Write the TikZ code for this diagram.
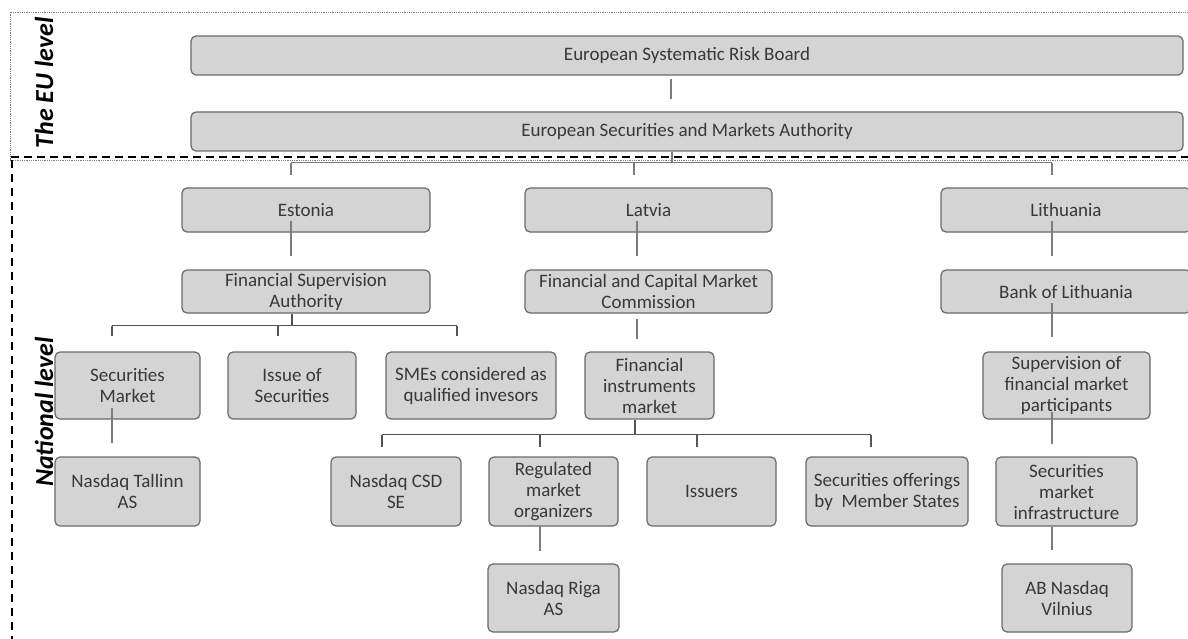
\documentclass[tikz,border=0pt]{standalone}
\usepackage{fontspec}
\setmainfont{Carlito}
\usetikzlibrary{calc}
\definecolor{boxfill}{HTML}{D4D4D4}
\definecolor{boxline}{HTML}{6A6A6A}
\definecolor{txt}{HTML}{383838}
\definecolor{conn}{HTML}{7C7C7C}
\definecolor{busc}{HTML}{555555}
\newcommand\mybox[6]{\node[box, minimum width=#4pt, minimum height=#5pt] (#1) at (#2,#3) {#6};}
\begin{document}
\begin{tikzpicture}[x=1pt,y=-1pt,
  box/.style={draw=boxline, fill=boxfill, rounded corners=5pt, line width=1.2pt, text=txt, align=center, font=\fontsize{19}{21}\selectfont, inner sep=1pt},
  lk/.style={draw=conn, line width=1.4pt},
  bus/.style={draw=busc, line width=1.3pt},
  lbl/.style={font=\fontsize{26}{28}\selectfont\bfseries\itshape, text=black, inner sep=0pt}]
\useasboundingbox[fill=white] (0,0) rectangle (1188,639);
% level frames
\draw[densely dotted, draw=gray, line width=0.8pt] (1200,12) -- (10,12) -- (10,160) -- (1200,160);
\draw[dash pattern=on 8pt off 5pt, line width=1.5pt] (11,157) -- (1200,157);
\draw[dash pattern=on 8pt off 6pt, line width=1.5pt] (12,160) -- (12,645);
\node[lbl, rotate=90] (eu) at (44,83) {The EU level};
\node[lbl, rotate=90] (nat) at (44,412) {National level};
% boxes
\mybox{ersb}{687}{55.5}{992}{39}{European Systematic Risk Board}
\mybox{esma}{687}{131.5}{992}{39}{European Securities and Markets Authority}
\mybox{est}{306}{210}{248}{44}{Estonia}
\mybox{lat}{648.5}{210}{247}{44}{Latvia}
\mybox{lit}{1066}{210}{250}{44}{Lithuania}
\mybox{fsa}{306}{291.5}{248}{43}{Financial Supervision\\Authority}
\mybox{fcmc}{648.5}{291.5}{247}{43}{Financial and Capital Market\\Commission}
\mybox{bol}{1066}{291.5}{250}{43}{Bank of Lithuania}
\mybox{secm}{127.5}{385.5}{145}{67}{Securities\\Market}
\mybox{iss}{292}{385.5}{128}{67}{Issue of\\Securities}
\mybox{sme}{471}{385.5}{170}{67}{SMEs considered as\\qualified invesors}
\mybox{fim}{649.5}{385.5}{129}{67}{Financial\\instruments\\market}
\mybox{sup}{1066.5}{385.5}{167}{67}{Supervision of\\financial market\\participants}
\mybox{tal}{127.5}{491.5}{145}{69}{Nasdaq Tallinn\\AS}
\mybox{csd}{396}{491.5}{130}{69}{Nasdaq CSD\\SE}
\mybox{reg}{553.5}{491.5}{129}{69}{Regulated\\market\\organizers}
\mybox{issuers}{711.5}{491.5}{129}{69}{Issuers}
\mybox{offer}{887}{491.5}{162}{69}{Securities offerings\\by~ Member States}
\mybox{smi}{1066.5}{491.5}{141}{69}{Securities\\market\\infrastructure}
\mybox{riga}{553.5}{598}{131}{68}{Nasdaq Riga\\AS}
\mybox{vil}{1067}{598}{130}{68}{AB Nasdaq\\Vilnius}
% x positions of connectors
\path (671,0) coordinate (x1) (672,0) coordinate (x2) (291,0) coordinate (xest)
      (634,0) coordinate (xlat) (1052,0) coordinate (xlit) (292,0) coordinate (xfsa)
      (112,0) coordinate (xsm) (278,0) coordinate (xis) (457,0) coordinate (xsme)
      (637,0) coordinate (xfc) (635,0) coordinate (xfim) (382,0) coordinate (xcsd)
      (540,0) coordinate (xreg) (697,0) coordinate (xiss) (871,0) coordinate (xoff);
% EU level
\draw[lk] ($(x1 |- ersb.south)+(0,3)$) -- ($(x1 |- esma.north)+(0,-12)$);
\draw[lk] (x2 |- esma.south) -- ++(0,11) coordinate (b0);
\draw[lk] (xest |- b0) -- (xlit |- b0);
\draw[lk] (xest |- b0) -- ($(xest |- est.north)+(0,-12)$);
\draw[lk] (xlat |- b0) -- ($(xlat |- lat.north)+(0,-12)$);
\draw[lk] (xlit |- b0) -- ($(xlit |- lit.north)+(0,-12)$);
% Estonia
\draw[lk] ($(xest |- est.south)+(0,-12)$) -- ($(xest |- fsa.north)+(0,-13)$);
\draw[bus] (xfsa |- fsa.south) -- ++(0,12) coordinate (b1);
\draw[bus] (xsm |- b1) -- (xsme |- b1);
\draw[bus] (xsm |- b1) -- ($(xsm |- secm.north)+(0,-15)$);
\draw[bus] (xis |- b1) -- ($(xis |- iss.north)+(0,-15)$);
\draw[bus] (xsme |- b1) -- ($(xsme |- sme.north)+(0,-15)$);
\draw[lk] ($(xsm |- secm.south)+(0,-12)$) -- ($(xsm |- tal.north)+(0,-13)$);
% Latvia
\draw[lk] ($(xfc |- lat.south)+(0,-12)$) -- ($(xfc |- fcmc.north)+(0,-13)$);
\draw[lk] ($(xfc |- fcmc.south)+(0,5)$) -- ($(xfc |- fim.north)+(0,-12)$);
\draw[bus] (xfim |- fim.south) -- ++(0,15) coordinate (b2);
\draw[bus] (xcsd |- b2) -- (xoff |- b2);
\draw[bus] (xcsd |- b2) -- ($(xcsd |- csd.north)+(0,-9)$);
\draw[bus] (xreg |- b2) -- ($(xreg |- reg.north)+(0,-9)$);
\draw[bus] (xiss |- b2) -- ($(xiss |- issuers.north)+(0,-9)$);
\draw[bus] (xoff |- b2) -- ($(xoff |- offer.north)+(0,-9)$);
\draw[lk] ($(xreg |- reg.south)+(0,-1)$) -- ($(xreg |- riga.north)+(0,-12)$);
% Lithuania
\draw[lk] ($(xlit |- lit.south)+(0,-12)$) -- ($(xlit |- bol.north)+(0,-13)$);
\draw[lk] ($(xlit |- bol.south)+(0,-11)$) -- ($(xlit |- sup.north)+(0,-14)$);
\draw[lk] ($(xlit |- sup.south)+(0,-8)$) -- ($(xlit |- smi.north)+(0,-12)$);
\draw[lk] (xlit |- smi.south) -- ($(xlit |- vil.north)+(0,-13)$);
\end{tikzpicture}
\end{document}
